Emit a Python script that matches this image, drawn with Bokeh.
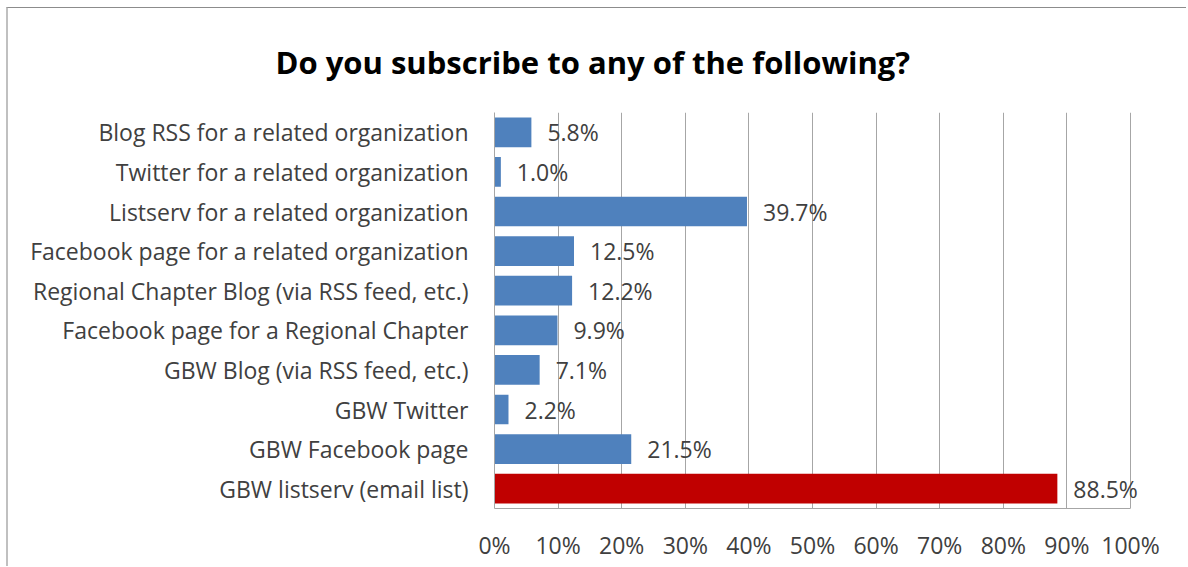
from bokeh.plotting import figure
from bokeh.models import (ColumnDataSource, FactorRange, Range1d, LabelSet,
                          FixedTicker, PrintfTickFormatter)
from bokeh.core.properties import value
from bokeh.embed import file_html
from bokeh.resources import INLINE

categories = [
    "Blog RSS for a related organization",
    "Twitter for a related organization",
    "Listserv for a related organization",
    "Facebook page for a related organization",
    "Regional Chapter Blog (via RSS feed, etc.)",
    "Facebook page for a Regional Chapter",
    "GBW Blog (via RSS feed, etc.)",
    "GBW Twitter",
    "GBW Facebook page",
    "GBW listserv (email list)",
]
values = [5.8, 1.0, 39.7, 12.5, 12.2, 9.9, 7.1, 2.2, 21.5, 88.5]
highlight = "GBW listserv (email list)"
x_ticks = [0, 10, 20, 30, 40, 50, 60, 70, 80, 90, 100]
title_text = "Do you subscribe to any of the following?"

FONT = "Open Sans"
TXT = "#404040"
FS = "23px"

colors = ["#C00000" if c == highlight else "#4F81BD" for c in categories]
labels = [f"{v:.1f}%" for v in values]
src = ColumnDataSource(dict(cat=categories, val=values, color=colors, lab=labels))

# frame is 668px wide; 100% sits at 636px so data labels beyond 100% stay visible
p = figure(width=1180, height=559, output_backend="svg", toolbar_location=None,
           y_range=FactorRange(factors=list(reversed(categories)), range_padding=0),
           x_range=Range1d(0, 100 * 668 / 636),
           min_border_left=486, min_border_right=26, min_border_top=99, min_border_bottom=59)
p.styles = {"border-left": "2px solid #c0c0c0", "border-top": "1px solid #8c8c8c",
            "margin-left": "6px", "margin-top": "7px"}

p.hbar(y="cat", right="val", left=0, height=0.75, color="color", source=src, line_color=None)

p.add_layout(LabelSet(x="val", y="cat", text="lab", source=src, x_offset=16,
                      text_baseline="middle", text_font=value(FONT), text_font_size=FS,
                      text_color=TXT))

p.title.text = title_text
p.title.align = "left"
p.title.offset = -219
p.title.standoff = 60
p.title.text_font = FONT
p.title.text_font_style = "bold"
p.title.text_font_size = "31px"
p.title.text_color = "#000000"

p.outline_line_color = None
p.ygrid.grid_line_color = None
p.xgrid.grid_line_color = "#a6a6a6"
p.xgrid.grid_line_width = 1

p.xaxis.ticker = FixedTicker(ticks=x_ticks)
p.xaxis.bounds = (0, 100)
p.xaxis.formatter = PrintfTickFormatter(format="%d%%")
p.xaxis.major_tick_line_color = None
p.xaxis.minor_tick_line_color = None
p.xaxis.axis_line_color = "#a6a6a6"
p.xaxis.major_label_text_font = FONT
p.xaxis.major_label_text_font_size = FS
p.xaxis.major_label_text_color = TXT
p.xaxis.major_label_standoff = 14

p.yaxis.major_tick_line_color = None
p.yaxis.minor_tick_line_color = None
p.yaxis.axis_line_color = "#a6a6a6"
p.yaxis.major_label_text_font = FONT
p.yaxis.major_label_text_font_size = FS
p.yaxis.major_label_text_color = TXT
p.yaxis.major_label_standoff = 20

p.background_fill_color = "white"
p.border_fill_color = "white"

open("out.html", "w").write(file_html(p, INLINE))
